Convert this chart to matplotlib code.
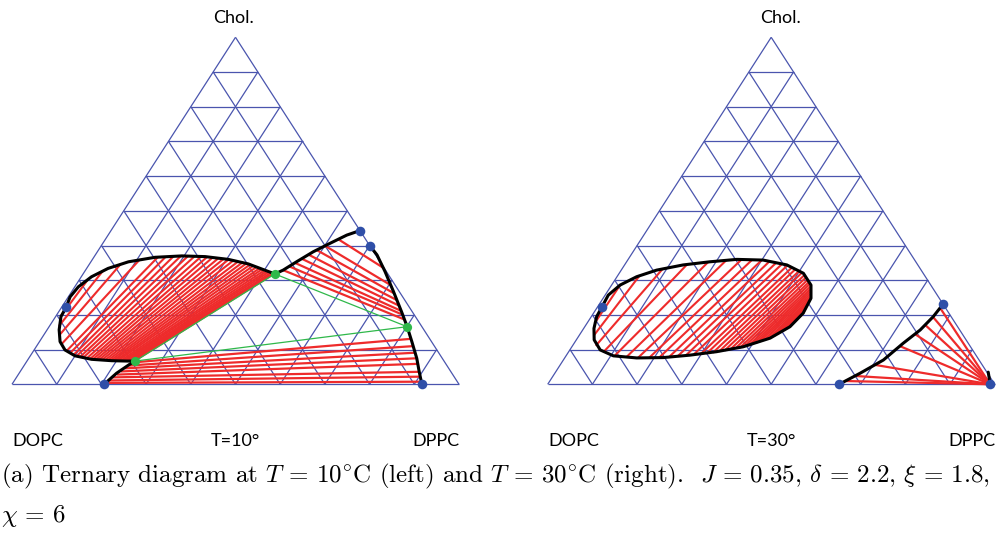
import numpy as np
import matplotlib
matplotlib.use("Agg")
import matplotlib.pyplot as plt
from matplotlib.collections import LineCollection

plt.rcParams["mathtext.fontset"] = "cm"

GRID = "#4a55ae"
RED = "#ee2b2b"
GREEN = "#2fb84a"
BLUE = "#2f4fa8"

# every point is a composition (DPPC, Chol); DOPC = 1 - DPPC - Chol

# ---- T = 10 C ----
t10_lobe = [(0.242, 0.067), (0.223, 0.067), (0.189, 0.068), (0.142, 0.072), (0.100, 0.082),
            (0.069, 0.099), (0.046, 0.123), (0.027, 0.157), (0.012, 0.195), (0.010, 0.222),
            (0.004, 0.252), (0.008, 0.281), (0.023, 0.310), (0.048, 0.334), (0.084, 0.353),
            (0.137, 0.366), (0.195, 0.370), (0.248, 0.368), (0.304, 0.360), (0.355, 0.347),
            (0.401, 0.329), (0.429, 0.318)]
t10_lobe_base = [(0.242, 0.067), (0.235, 0.0585), (0.218, 0.032), (0.206, 0.0)]
t10_upper = [(0.429, 0.318), (0.442, 0.329), (0.460, 0.353), (0.483, 0.382), (0.508, 0.406),
             (0.534, 0.430), (0.557, 0.443)]
t10_right = [(0.600, 0.400), (0.630, 0.373), (0.672, 0.325), (0.720, 0.267), (0.767, 0.209),
             (0.801, 0.166), (0.833, 0.123), (0.868, 0.075), (0.893, 0.036), (0.917, 0.0)]

t10_lobe_low = [(0.011, 0.197), (0.021, 0.168), (0.035, 0.141), (0.053, 0.116),
                (0.074, 0.096), (0.085, 0.090), (0.095, 0.084), (0.104, 0.081), (0.113, 0.079),
                (0.121, 0.077), (0.130, 0.075), (0.138, 0.073), (0.145, 0.072), (0.152, 0.071),
                (0.159, 0.0705), (0.166, 0.070), (0.173, 0.069), (0.180, 0.069), (0.186, 0.068),
                (0.192, 0.068), (0.198, 0.068), (0.203, 0.068), (0.209, 0.0675), (0.214, 0.067),
                (0.218, 0.067), (0.223, 0.067), (0.227, 0.067), (0.230, 0.067), (0.234, 0.067),
                (0.237, 0.067), (0.240, 0.067)]
t10_lobe_high = [(0.019, 0.303), (0.040, 0.327), (0.070, 0.347), (0.106, 0.359),
                 (0.143, 0.366), (0.160, 0.367), (0.177, 0.369), (0.193, 0.370), (0.209, 0.3695),
                 (0.224, 0.369), (0.239, 0.368), (0.253, 0.367), (0.266, 0.365), (0.280, 0.363),
                 (0.293, 0.362), (0.305, 0.360), (0.317, 0.357), (0.329, 0.354), (0.340, 0.351),
                 (0.350, 0.348), (0.360, 0.345), (0.369, 0.3415), (0.378, 0.338), (0.387, 0.335),
                 (0.394, 0.332), (0.401, 0.329), (0.408, 0.327), (0.413, 0.324), (0.419, 0.322),
                 (0.424, 0.320), (0.427, 0.319)]
t10_upper_a = [(0.521, 0.418), (0.501, 0.399), (0.488, 0.387), (0.476, 0.374),
               (0.467, 0.362), (0.458, 0.350), (0.450, 0.340), (0.442, 0.329)]
t10_upper_b = [(0.664, 0.335), (0.704, 0.286), (0.724, 0.262), (0.739, 0.243),
               (0.754, 0.226), (0.766, 0.211), (0.775, 0.200), (0.784, 0.187)]
t10_fan_a = [(0.239, 0.063), (0.235, 0.054), (0.230, 0.046), (0.225, 0.037),
             (0.221, 0.028), (0.216, 0.020), (0.2115, 0.011), (0.208, 0.004)]
t10_fan_b = [(0.827, 0.131), (0.842, 0.110), (0.856, 0.091), (0.868, 0.075),
             (0.879, 0.059), (0.893, 0.036), (0.902, 0.022), (0.912, 0.0075)]
t10_three_phase = [(0.242, 0.067), (0.429, 0.318), (0.801, 0.166)]
t10_points = [(0.206, 0.0), (0.917, 0.0), (0.010, 0.222), (0.557, 0.443), (0.600, 0.400)]

# ---- T = 30 C ----
t30_loop = [(0.010, 0.222), (0.007, 0.257), (0.019, 0.286), (0.044, 0.310), (0.079, 0.329),
            (0.131, 0.344), (0.186, 0.353), (0.243, 0.360), (0.303, 0.358), (0.363, 0.344),
            (0.412, 0.320), (0.446, 0.286), (0.465, 0.248), (0.469, 0.205), (0.459, 0.166),
            (0.431, 0.133), (0.383, 0.108), (0.331, 0.094), (0.276, 0.084), (0.220, 0.077),
            (0.161, 0.076), (0.106, 0.082), (0.068, 0.099), (0.040, 0.128), (0.023, 0.161),
            (0.012, 0.195), (0.010, 0.222)]
t30_low = [(0.017, 0.176), (0.033, 0.142), (0.052, 0.111), (0.078, 0.092), (0.109, 0.0835),
           (0.137, 0.079), (0.164, 0.077), (0.189, 0.077), (0.211, 0.077), (0.232, 0.078),
           (0.250, 0.080), (0.267, 0.082), (0.283, 0.0835), (0.298, 0.085), (0.311, 0.088),
           (0.324, 0.091), (0.336, 0.094), (0.347, 0.097), (0.358, 0.100), (0.368, 0.103),
           (0.377, 0.105), (0.385, 0.1075), (0.393, 0.111), (0.400, 0.115), (0.407, 0.119),
           (0.413, 0.123), (0.420, 0.127), (0.427, 0.130), (0.432, 0.134), (0.437, 0.139),
           (0.442, 0.144), (0.446, 0.150), (0.451, 0.1555), (0.455, 0.161)]
t30_high = [(0.019, 0.286), (0.049, 0.3135), (0.091, 0.333), (0.139, 0.345), (0.183, 0.353),
            (0.221, 0.358), (0.254, 0.360), (0.278, 0.359), (0.300, 0.358), (0.319, 0.354),
            (0.336, 0.350), (0.351, 0.347), (0.365, 0.343), (0.378, 0.3365), (0.388, 0.331),
            (0.399, 0.326), (0.408, 0.322), (0.417, 0.315), (0.424, 0.308), (0.431, 0.301),
            (0.437, 0.294), (0.442, 0.289), (0.447, 0.282), (0.451, 0.275), (0.454, 0.267),
            (0.457, 0.260), (0.460, 0.2535), (0.463, 0.247), (0.465, 0.239), (0.466, 0.232),
            (0.467, 0.224), (0.468, 0.218), (0.469, 0.212), (0.470, 0.207)]
t30_corner_curve = [(0.652, 0.0), (0.683, 0.032), (0.716, 0.070), (0.736, 0.118),
                    (0.755, 0.1565), (0.765, 0.195), (0.769, 0.231)]
t30_corner_edge = [(0.968, 0.035), (0.990, 0.0)]
t30_fan_ends = [(0.768, 0.220), (0.765, 0.194), (0.759, 0.171), (0.749, 0.145),
                (0.733, 0.110), (0.704, 0.056), (0.676, 0.024), (0.660, 0.0095)]
t30_fan_corner = (0.990, 0.0)
t30_points = [(0.010, 0.222), (0.652, 0.0), (0.769, 0.231), (0.990, 0.0)]


def to_xy(pts):
    p = np.asarray(pts, dtype=float)
    return p[:, 0] + p[:, 1] / 2, p[:, 1]


def segs(a, b):
    xa, ya = to_xy(a)
    xb, yb = to_xy(b)
    return [[(x0, y0), (x1, y1)] for x0, y0, x1, y1 in zip(xa, ya, xb, yb)]


def setup(rect):
    ax = fig.add_axes(rect)
    ax.set_xlim(0, 1)
    ax.set_ylim(0, 1)
    ax.axis("off")
    lines = [[(0, 0), (1, 0)], [(1, 0), (0, 1)], [(0, 1), (0, 0)]]
    for k in range(1, 10):
        f = k / 10
        lines += [[(0, f), (1 - f, f)], [(f, 0), (f, 1 - f)], [(1 - f, 0), (0, 1 - f)]]
    grid = [np.column_stack(to_xy(l)) for l in lines]
    ax.add_collection(LineCollection(grid, colors=GRID, linewidths=0.9, clip_on=False))
    return ax


def curve(ax, pts):
    x, y = to_xy(pts)
    ax.plot(x, y, color="black", lw=2.2, solid_capstyle="round", clip_on=False, zorder=4)


def ties(ax, a, b, lw=1.6):
    ax.add_collection(LineCollection(segs(a, b), colors=RED, linewidths=lw, clip_on=False, zorder=2))


def dots(ax, pts, color, size=48):
    x, y = to_xy(pts)
    ax.scatter(x, y, s=size, color=color, zorder=6, clip_on=False, linewidths=0)


def labels(ax, temp, top_x=0.5):
    kw = dict(family=["Lato", "DejaVu Sans"], fontsize=13, ha="center", va="center",
              transform=ax.transAxes)
    ax.text(top_x, 1.056, "Chol.", **kw)
    ax.text(0.058, -0.163, "DOPC", **kw)
    ax.text(0.50, -0.163, temp, **kw)
    ax.text(0.949, -0.163, "DPPC", **kw)


fig = plt.figure(figsize=(9.98, 5.40), dpi=100)

bottom = (540 - 384.3) / 540
height = 347 / 540
width = 447 / 998

ax1 = setup([12 / 998, bottom, width, height])
ties(ax1, t10_lobe_low, t10_lobe_high, lw=1.5)
ties(ax1, t10_upper_a, t10_upper_b)
ties(ax1, t10_fan_a, t10_fan_b)
tx, ty = to_xy(t10_three_phase + t10_three_phase[:1])
ax1.plot(tx, ty, color=GREEN, lw=0.9, zorder=3)
for c in (t10_lobe, t10_lobe_base, t10_upper, t10_right):
    curve(ax1, c)
dots(ax1, t10_three_phase, GREEN, 44)
dots(ax1, t10_points, BLUE)
labels(ax1, "T=10°", 0.496)

ax2 = setup([547.7 / 998, bottom, width, height])
ties(ax2, t30_low, t30_high, lw=1.5)
ties(ax2, [t30_fan_corner] * len(t30_fan_ends), t30_fan_ends)
curve(ax2, t30_loop)
curve(ax2, t30_corner_curve)
curve(ax2, t30_corner_edge)
dots(ax2, t30_points, BLUE)
labels(ax2, "T=30°", 0.52)

cap = dict(family="cmr10", fontsize=18, va="center", ha="left")
fig.text(0.001, 1 - 476 / 540,
         r"(a) Ternary diagram at $T$ = 10$^{\circ}$C (left) and $T$ = 30$^{\circ}$C (right).  "
         r"$J$ = 0.35, $\delta$ = 2.2, $\xi$ = 1.8,", **cap)
fig.text(0.001, 1 - 516 / 540, r"$\chi$ = 6", **cap)

fig.savefig("out.png", dpi=100)
